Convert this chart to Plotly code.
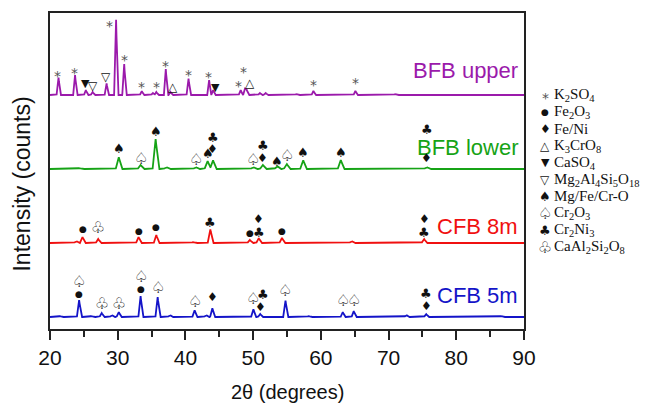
import numpy as np
import plotly.graph_objects as go

# ---- data (2theta in degrees, intensity in arbitrary counts) ----
series_names = ["BFB upper", "BFB lower", "CFB 8m", "CFB 5m"]
series_colors = ["#9b1aab", "#16a316", "#f01010", "#1414c8"]
series_offsets = [233, 159, 85, 11]
series_widths = [0.28, 0.45, 0.38, 0.33]

upper_pos = [21.25, 23.7, 25.3, 26.3, 28.35, 29.75, 30.95, 33.55, 35.2, 35.7, 37.1, 37.8, 40.45, 43.5,
             44.1, 48.15, 48.8, 49.05, 51.0, 51.85, 56.4, 58.9, 65.1, 71.0]
upper_int = [18, 20, 5, 3, 12, 78, 32, 4, 2, 3, 26, 3, 17, 15, 5, 5, 6, 5, 2, 2, 1, 4, 4, 1]

lower_pos = [24.3, 30.15, 33.38, 35.6, 37.21, 41.55, 43.27, 44.07, 50.03, 51.44, 53.56, 54.97, 57.39,
             62.94, 75.65]
lower_int = [1, 12, 4, 30, 2, 2, 8, 9, 2, 4, 3, 5, 9, 9, 2]

cfb8_pos = [23.89, 24.8, 27.12, 33.08, 35.7, 41.15, 43.67, 49.52, 50.83, 54.26, 64.55, 75.25]
cfb8_int = [2, 6, 4, 6, 8, 1, 14, 3, 5, 5, 2, 4]

cfb5_pos = [21.47, 24.3, 26.11, 27.63, 29.14, 30.15, 33.38, 35.9, 37.72, 41.35, 43.06, 43.97, 50.03,
            51.04, 54.77, 58.2, 63.24, 64.86, 72.63, 75.55, 86.65]
cfb5_int = [1, 17, 1, 4, 2, 5, 21, 20, 2, 7, 2, 9, 8, 3, 17, 1, 5, 6, 2, 3, 1]

# phase markers: (symbol, 2theta, intensity)
upper_marks = [("*", 21.17, 255), ("*", 23.69, 258), ("▼", 25.31, 245), ("▽", 26.32, 242),
               ("▽", 28.33, 251), ("*", 28.84, 305), ("*", 30.96, 271), ("*", 33.58, 244),
               ("*", 35.8, 244), ("*", 37.11, 265), ("△", 38.12, 241), ("*", 40.44, 256),
               ("*", 43.37, 254), ("▼", 44.38, 241), ("*", 47.81, 245), ("*", 48.61, 259),
               ("△", 49.52, 245), ("*", 58.9, 246), ("*", 65.16, 248)]
lower_marks = [("♠", 30.15, 180), ("♤", 33.38, 170), ("♠", 35.6, 197), ("♤", 41.55, 169),
               ("♠", 43.27, 175), ("♦", 44.07, 179), ("♣", 44.07, 191), ("♤", 50.03, 169),
               ("♦", 51.44, 170), ("♣", 51.44, 183), ("♠", 53.56, 167), ("♤", 54.97, 173),
               ("♠", 57.39, 176), ("♠", 62.94, 176), ("♦", 75.65, 170), ("♣", 75.65, 199)]
cfb8_marks = [("●", 24.8, 99), ("♧", 27.12, 101), ("●", 33.08, 97), ("●", 35.7, 101), ("♣", 43.67, 106),
              ("●", 49.52, 95), ("♣", 50.83, 96), ("♦", 50.83, 109), ("●", 54.26, 97), ("♣", 75.25, 96),
              ("♦", 75.25, 109)]
cfb5_marks = [("●", 24.3, 34), ("♤", 24.3, 47), ("♧", 27.63, 25), ("♧", 30.15, 25), ("●", 33.38, 39),
              ("♤", 33.38, 52), ("♤", 35.9, 41), ("♤", 41.35, 27), ("♦", 43.97, 31), ("♤", 50.03, 30),
              ("♦", 51.04, 21), ("♣", 51.44, 34), ("♤", 54.77, 38), ("♤", 63.24, 28), ("♤", 64.86, 28),
              ("♣", 75.55, 35), ("♦", 75.55, 22)]

legend_symbols = ["*", "●", "♦", "△", "▼", "▽", "♠", "♤", "♣", "♧"]
legend_labels = ["K<sub>2</sub>SO<sub>4</sub>", "Fe<sub>2</sub>O<sub>3</sub>", "Fe/Ni",
                 "K<sub>3</sub>CrO<sub>8</sub>", "CaSO<sub>4</sub>",
                 "Mg<sub>2</sub>Al<sub>4</sub>Si<sub>5</sub>O<sub>18</sub>", "Mg/Fe/Cr-O",
                 "Cr<sub>2</sub>O<sub>3</sub>", "Cr<sub>2</sub>Ni<sub>3</sub>",
                 "CaAl<sub>2</sub>Si<sub>2</sub>O<sub>8</sub>"]

x_ticks = [20, 30, 40, 50, 60, 70, 80, 90]

# ---- figure ----
all_pos = [upper_pos, lower_pos, cfb8_pos, cfb5_pos]
all_int = [upper_int, lower_int, cfb8_int, cfb5_int]
all_marks = [upper_marks, lower_marks, cfb8_marks, cfb5_marks]

SYM_SIZE = {"*": 14, "●": 9, "♦": 12, "△": 12, "▼": 11, "▽": 12, "♠": 13, "♤": 16, "♣": 13, "♧": 16}

x = np.round(np.arange(20, 90.001, 0.02), 3)
fig = go.Figure()
for name, col, off, w, pos, inten in zip(series_names, series_colors, series_offsets, series_widths,
                                         all_pos, all_int):
    y = np.full_like(x, float(off))
    for p, h in zip(pos, inten):
        y += np.clip(h * (1 - np.abs(x - p) / w), 0, None)
    fig.add_trace(go.Scatter(x=x, y=y, mode="lines", name=name,
                             line=dict(color=col, width=1.8), showlegend=False))

annotations = []
label_y = [258, 181, 102, 33]
for name, col, ly in zip(series_names, series_colors, label_y):
    annotations.append(dict(x=89.4, y=ly, xref="x", yref="y", text=name, showarrow=False,
                            xanchor="right", yanchor="middle",
                            font=dict(family="Liberation Sans, Arial", size=22, color=col)))


def sym_font(sym):
    return dict(family="DejaVu Sans", size=SYM_SIZE[sym], color="#555" if sym == "*" else "#111")


for marks in all_marks:
    for sym, mx, my in marks:
        annotations.append(dict(x=mx, y=my - (3 if sym == "*" else 0), text=sym, showarrow=False,
                                xanchor="center", yanchor="middle", font=sym_font(sym)))

for i, (sym, lab) in enumerate(zip(legend_symbols, legend_labels)):
    py = 233 - i * 16.9
    annotations.append(dict(x=1.045, y=py - (3 if sym == "*" else 0), xref="paper", yref="y", text=sym,
                            showarrow=False, xanchor="center", yanchor="middle", font=sym_font(sym)))
    annotations.append(dict(x=1.06, y=py, xref="paper", yref="y", text=lab, showarrow=False,
                            xanchor="left", yanchor="middle",
                            font=dict(family="Liberation Serif, Times New Roman", size=15, color="#111")))

annotations.append(dict(x=0.5, y=-0.2, xref="paper", yref="paper", text="2θ (degrees)",
                        showarrow=False, xanchor="center", yanchor="middle",
                        font=dict(family="Liberation Sans, Arial", size=20, color="#111")))
annotations.append(dict(x=-0.06, y=0.459, xref="paper", yref="paper", text="Intensity (counts)",
                        textangle=-90, showarrow=False, xanchor="center", yanchor="middle",
                        font=dict(family="Liberation Sans, Arial", size=23, color="#111")))

fig.update_layout(
    width=646, height=403,
    margin=dict(l=50, r=122, t=13, b=74),
    paper_bgcolor="white", plot_bgcolor="white",
    annotations=annotations,
    xaxis=dict(range=[20, 90], tickvals=x_ticks, ticks="outside", ticklen=9, tickwidth=1.5,
               tickcolor="#222", showline=True, linecolor="#222", linewidth=1.5, mirror=True,
               showgrid=False, zeroline=False,
               minor=dict(dtick=5, ticks="outside", ticklen=6, tickwidth=1.5, tickcolor="#222"),
               tickfont=dict(family="Liberation Sans, Arial", size=21, color="#111")),
    yaxis=dict(range=[-1, 315], showticklabels=False, ticks="", showline=True, linecolor="#222",
               linewidth=1.5, mirror=True, showgrid=False, zeroline=False),
)

fig.write_html("out.html")
